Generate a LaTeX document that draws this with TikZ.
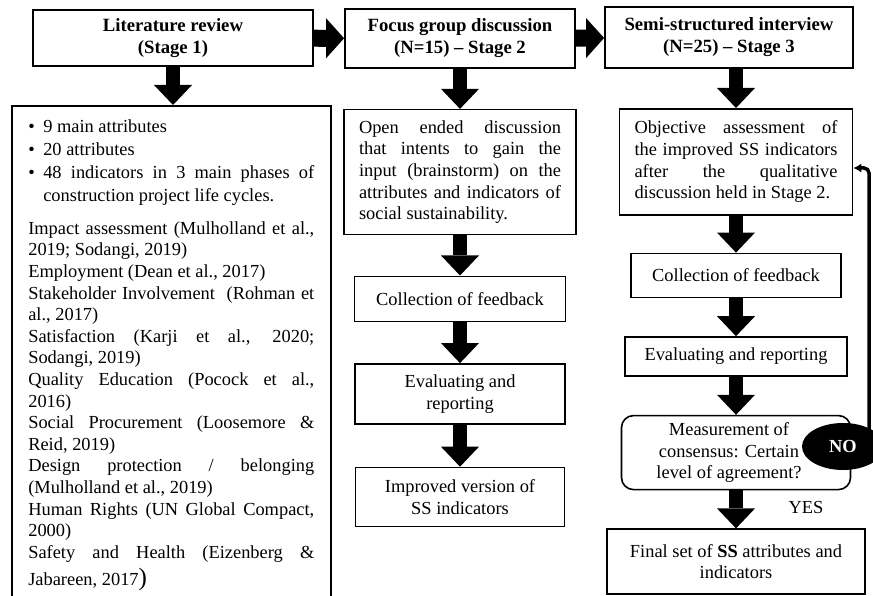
\documentclass[tikz,border=0pt]{standalone}
\usepackage{fontspec}
\setmainfont{Liberation Serif}
\usetikzlibrary{positioning,arrows.meta,shapes.geometric}
\newcommand{\bitem}{\par\hangindent=15pt\hangafter=1\makebox[15pt][l]{\textbullet}}
\begin{document}
\begin{tikzpicture}[x=1pt,y=-1pt,
	font=\fontsize{18.4}{21.6}\selectfont,
	stagebox/.style={draw,line width=1.8pt,inner sep=0pt,align=center,font=\fontsize{18.7}{22}\selectfont\bfseries},
	plainbox/.style={draw,line width=1.6pt,inner sep=0pt,align=center},
	textbox/.style={draw,line width=1.6pt,inner xsep=16pt,inner ysep=0pt,align=justify},
	blockarrow/.style={line width=14pt,-{Triangle[width=38pt,length=20pt,line width=0pt]}},
	sidearrow/.style={line width=17pt,-{Triangle[width=40pt,length=18pt,line width=0pt]}},
	backline/.style={line width=3.5pt,rounded corners=5pt,-{Latex[length=8pt,width=9pt]}}]

	\useasboundingbox (0,0) rectangle (873,596);

	\node (lit)   [stagebox,minimum width=280pt,minimum height=56pt] at (173,38) {Literature review\\(Stage 1)};
	\node (focus) [stagebox,minimum width=230pt,minimum height=59pt] at (460,38.5) {Focus group discussion\\(N=15) – Stage 2};
	\node (semi)  [stagebox,minimum width=248pt,minimum height=61pt] at (729,37.5) {Semi-structured interview\\(N=25) – Stage 3};

	\node (review) [textbox,anchor=north west,text width=286pt,inner xsep=16.5pt,inner ysep=4pt] at (11,105) {%
		\parindent=0pt\parskip=0pt\hyphenpenalty=10000\tolerance=10000
		{\fontsize{18.4}{23}\selectfont
		\bitem 9 main attributes
		\bitem 20 attributes
		\bitem 48 indicators in 3 main phases of\linebreak construction project life cycles.\par}
		\vspace{11pt}
		Impact assessment (Mulholland et al.,\linebreak 2019; Sodangi, 2019)\par
		Employment (Dean et al., 2017)\par
		Stakeholder Involvement \ (Rohman et\linebreak al., 2017)\par
		Satisfaction (Karji et al., 2020;\linebreak Sodangi, 2019)\par
		Quality Education (Pocock et al.,\linebreak 2016)\par
		Social Procurement (Loosemore \&\linebreak Reid, 2019)\par
		Design protection / belonging\linebreak (Mulholland et al., 2019)\par
		Human Rights (UN Global Compact,\linebreak 2000)\par
		Safety and Health (Eizenberg \&\linebreak \rule{0pt}{22pt}Jabareen, 2017{\fontsize{25}{25}\selectfont)}\rule[-22pt]{0pt}{22pt}\par};

	\node (open) [textbox,below=40pt of focus,text width=202pt,inner xsep=15pt,minimum width=232pt,minimum height=125pt] {%
		\hyphenpenalty=10000\tolerance=10000
		Open ended discussion\linebreak that intents to gain the\linebreak input (brainstorm) on the\linebreak attributes and indicators of\linebreak social sustainability.};
	\node (collect)  [plainbox,below=40pt of open,minimum width=211pt,minimum height=45pt] {Collection of feedback};
	\node (evalm)    [plainbox,below=41pt of collect,minimum width=210pt,minimum height=60pt] {Evaluating and\\reporting};
	\node (improved) [plainbox,below=42pt of evalm,minimum width=209pt,minimum height=59pt] {Improved version of\\SS indicators};

	\node (obj) [textbox,anchor=north,text width=203pt,inner xsep=15pt,minimum width=233pt,minimum height=106pt] at (736,108) {%
		\hyphenpenalty=10000\tolerance=10000
		Objective assessment of\linebreak the improved SS indicators\linebreak after the qualitative\linebreak discussion held in Stage~2.};
	\node (rcollect) [plainbox,below=37pt of obj,minimum width=210pt,minimum height=44pt] {Collection of feedback};
	\node (reval)    [plainbox,below=38pt of rcollect,minimum width=222pt,minimum height=39pt] {Evaluating and reporting};
	\node (measure)  [plainbox,rounded corners=12pt,below=38pt of reval,minimum width=229pt,minimum height=74pt] {};
	\node (mtext) [align=center] at ([xshift=-7pt]measure.center) {Measurement of\\consensus: Certain\\level of agreement?};
	\node (final)    [plainbox,below=38pt of measure,minimum width=258pt,minimum height=65pt] {Final set of \textbf{SS} attributes and\\indicators};

	\draw[sidearrow] (lit) to (focus);
	\draw[sidearrow] (focus) to (semi);
	\draw[blockarrow] (lit.south) to (lit.south |- review.north);
	\draw[blockarrow] (focus) to (open);
	\draw[blockarrow] (open) to (collect);
	\draw[blockarrow] (collect) to (evalm);
	\draw[blockarrow] (evalm) to (improved);
	\draw[blockarrow] (semi.south -| obj.north) to (obj.north);
	\draw[blockarrow] (obj) to (rcollect);
	\draw[blockarrow] (rcollect) to (reval);
	\draw[blockarrow] (reval) to (measure);
	\draw[blockarrow] (measure) to (final);
	\node (yes) at (806,507) {YES};

	\coordinate (nopos) at (843,446.5);
	\coordinate (bend) at (869,168);
	\draw[backline] (bend |- nopos) -- (bend) -- (obj.east |- bend);
	\node (no) [ellipse,fill=black,text=white,font=\fontsize{18.4}{22}\selectfont\bfseries,minimum width=82pt,minimum height=47pt,inner sep=0pt] at (nopos) {NO};
\end{tikzpicture}
\end{document}
